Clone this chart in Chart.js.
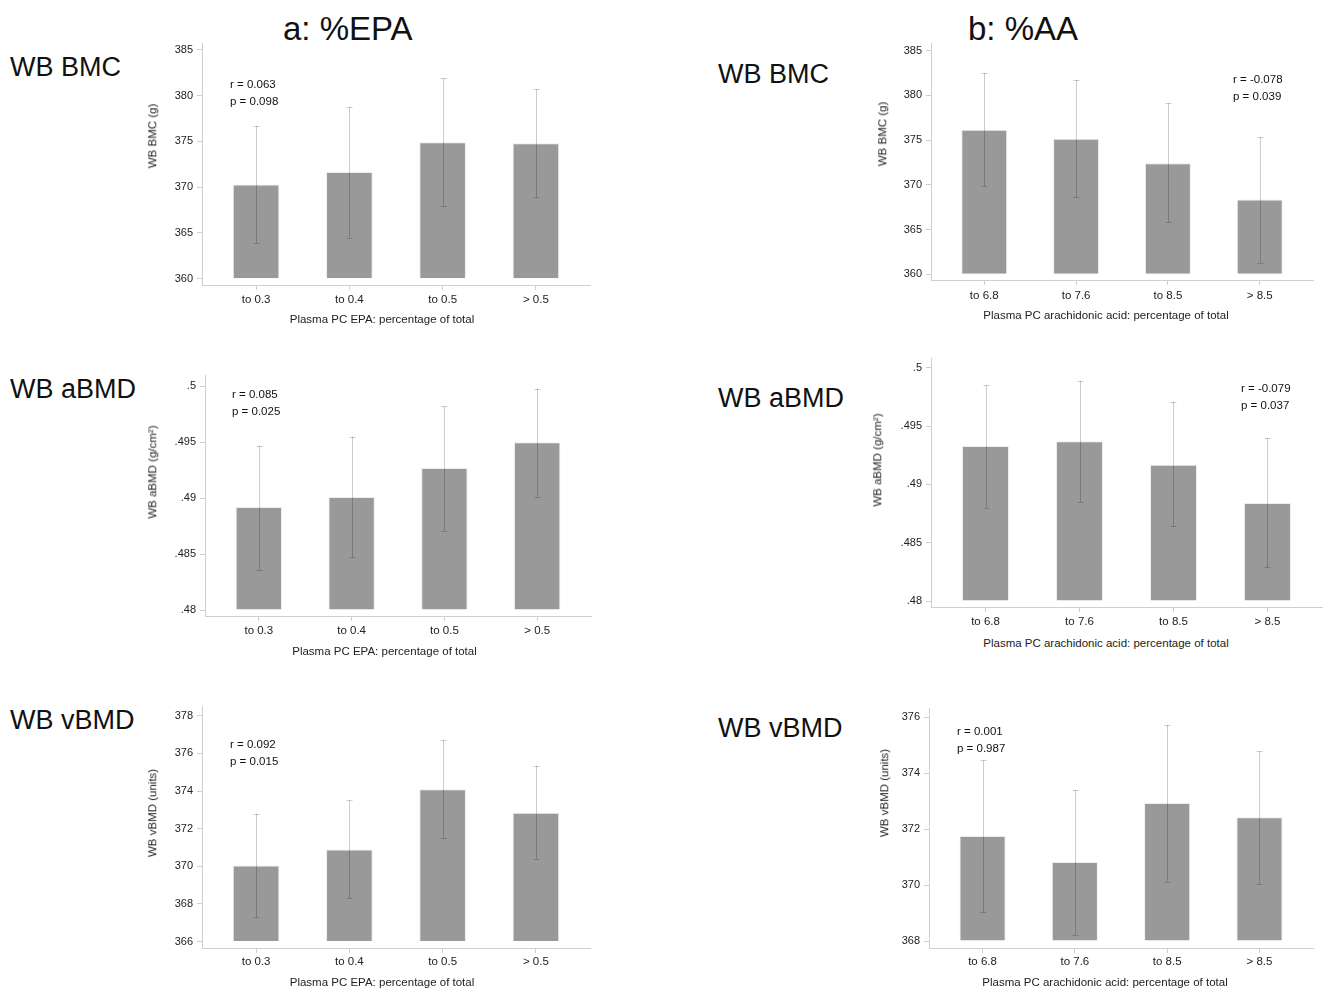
<!DOCTYPE html>
<html>
<head>
<meta charset="utf-8">
<script src="https://cdn.jsdelivr.net/npm/chart.js@4.4.1/dist/chart.umd.min.js"></script>
<style>
  html, body { margin:0; padding:0; background:#fff; }
  body { width:1328px; height:992px; position:relative; overflow:hidden; font-family:"Liberation Sans", Arial, sans-serif; color:#111; }
  canvas { position:absolute; }
  .t { position:absolute; white-space:nowrap; line-height:1; }
  .big { font-size:33px; transform:translateY(-50%); }
  .row { font-size:27px; transform:translateY(-50%); }
  .xt { font-size:11.5px; color:#222; transform:translate(-50%,-50%); }
  .yt { font-size:11.5px; color:#222; transform:translate(-50%,-50%) rotate(-90deg); }
  .st { font-size:11.5px; color:#111; transform:translateY(-50%); }
</style>
</head>
<body>
<script>
// ---------- data ----------
const epaCats = ['to 0.3', 'to 0.4', 'to 0.5', '> 0.5'];
const aaCats  = ['to 6.8', 'to 7.6', 'to 8.5', '> 8.5'];

const epaBmcMean = [370.3, 371.65, 374.9, 374.8];
const epaBmcLow  = [363.9, 364.5, 367.9, 368.9];
const epaBmcHigh = [376.7, 378.8, 381.9, 380.7];

const aaBmcMean = [376.15, 375.15, 372.4, 368.35];
const aaBmcLow  = [369.85, 368.6, 365.8, 361.3];
const aaBmcHigh = [382.5, 381.7, 379.1, 375.3];

const epaAbmdMean = [0.4892, 0.4901, 0.4927, 0.4950];
const epaAbmdLow  = [0.4836, 0.4847, 0.4871, 0.4901];
const epaAbmdHigh = [0.4947, 0.4955, 0.4982, 0.4998];

const aaAbmdMean = [0.4933, 0.4937, 0.4917, 0.4884];
const aaAbmdLow  = [0.4880, 0.4885, 0.4864, 0.4829];
const aaAbmdHigh = [0.4985, 0.4989, 0.4971, 0.4940];

const epaVbmdMean = [370.05, 370.9, 374.1, 372.85];
const epaVbmdLow  = [367.3, 368.3, 371.5, 370.4];
const epaVbmdHigh = [372.8, 373.5, 376.7, 375.35];

const aaVbmdMean = [371.75, 370.82, 372.93, 372.42];
const aaVbmdLow  = [369.05, 368.22, 370.12, 370.05];
const aaVbmdHigh = [374.45, 373.4, 375.72, 374.77];

const bmcTicks = [360, 365, 370, 375, 380, 385];
const bmcTickLabels = ['360', '365', '370', '375', '380', '385'];
const abmdTicks = [0.48, 0.485, 0.49, 0.495, 0.5];
const abmdTickLabels = ['.48', '.485', '.49', '.495', '.5'];
const epaVbmdTicks = [366, 368, 370, 372, 374, 376, 378];
const epaVbmdTickLabels = ['366', '368', '370', '372', '374', '376', '378'];
const aaVbmdTicks = [368, 370, 372, 374, 376];
const aaVbmdTickLabels = ['368', '370', '372', '374', '376'];

const statR = ['r = 0.063', 'r = -0.078', 'r = 0.085', 'r = -0.079', 'r = 0.092', 'r = 0.001'];
const statP = ['p = 0.098', 'p = 0.039', 'p = 0.025', 'p = 0.037', 'p = 0.015', 'p = 0.987'];

// ---------- layout ----------
const panels = [
  { cats: epaCats, mean: epaBmcMean, low: epaBmcLow, high: epaBmcHigh, ticks: bmcTicks, tickLabels: bmcTickLabels,
    base: 360, min: 359.31, max: 385.69, L: 202, T: 43, R: 590, B: 285, xpad: 3,
    ytitle: 'WB BMC (g)', yx: 153, yy: 136, xtitle: 'Plasma PC EPA: percentage of total', xx: 382, xy: 320,
    sx: 230, sy: 85 },
  { cats: aaCats, mean: aaBmcMean, low: aaBmcLow, high: aaBmcHigh, ticks: bmcTicks, tickLabels: bmcTickLabels,
    base: 360, min: 359.37, max: 385.78, L: 931, T: 43, R: 1313, B: 280, xpad: 4,
    ytitle: 'WB BMC (g)', yx: 883, yy: 134, xtitle: 'Plasma PC arachidonic acid: percentage of total', xx: 1106, xy: 316,
    sx: 1233, sy: 79.5 },
  { cats: epaCats, mean: epaAbmdMean, low: epaAbmdLow, high: epaAbmdHigh, ticks: abmdTicks, tickLabels: abmdTickLabels,
    base: 0.48, min: 0.479465, max: 0.500954, L: 205, T: 375, R: 591, B: 616, xpad: 3,
    ytitle: 'WB aBMD (g/cm²)', yx: 153, yy: 472, xtitle: 'Plasma PC EPA: percentage of total', xx: 384.5, xy: 651.5,
    sx: 232, sy: 395 },
  { cats: aaCats, mean: aaAbmdMean, low: aaAbmdLow, high: aaAbmdHigh, ticks: abmdTicks, tickLabels: abmdTickLabels,
    base: 0.48, min: 0.479486, max: 0.500797, L: 931, T: 358, R: 1322, B: 607, xpad: 3,
    ytitle: 'WB aBMD (g/cm²)', yx: 878, yy: 460, xtitle: 'Plasma PC arachidonic acid: percentage of total', xx: 1106, xy: 644,
    sx: 1241, sy: 388.5 },
  { cats: epaCats, mean: epaVbmdMean, low: epaVbmdLow, high: epaVbmdHigh, ticks: epaVbmdTicks, tickLabels: epaVbmdTickLabels,
    base: 366, min: 365.66, max: 378.49, L: 202, T: 706, R: 590, B: 948, xpad: 2,
    ytitle: 'WB vBMD (units)', yx: 153, yy: 813, xtitle: 'Plasma PC EPA: percentage of total', xx: 382, xy: 983,
    sx: 230, sy: 745 },
  { cats: aaCats, mean: aaVbmdMean, low: aaVbmdLow, high: aaVbmdHigh, ticks: aaVbmdTicks, tickLabels: aaVbmdTickLabels,
    base: 368, min: 367.75, max: 376.3, L: 929, T: 708, R: 1313, B: 948, xpad: 2,
    ytitle: 'WB vBMD (units)', yx: 885, yy: 793, xtitle: 'Plasma PC arachidonic acid: percentage of total', xx: 1105, xy: 983,
    sx: 957, sy: 731.5 }
];

const bigLabels = [
  { text: 'a: %EPA', cls: 'big', x: 283, y: 28 },
  { text: 'b: %AA', cls: 'big', x: 968, y: 28 },
  { text: 'WB BMC', cls: 'row', x: 10, y: 67 },
  { text: 'WB BMC', cls: 'row', x: 718, y: 74 },
  { text: 'WB aBMD', cls: 'row', x: 10, y: 389 },
  { text: 'WB aBMD', cls: 'row', x: 718, y: 397.5 },
  { text: 'WB vBMD', cls: 'row', x: 10, y: 720 },
  { text: 'WB vBMD', cls: 'row', x: 718, y: 728 }
];

function addText(text, cls, x, y) {
  const d = document.createElement('div');
  d.className = 't ' + cls;
  d.textContent = text;
  d.style.left = x + 'px';
  d.style.top = y + 'px';
  document.body.appendChild(d);
}

bigLabels.forEach(b => addText(b.text, b.cls, b.x, b.y));

Chart.defaults.font.family = '"Liberation Sans", Arial, sans-serif';
Chart.defaults.color = '#222';

const errorBars = {
  id: 'errorBars',
  afterDatasetsDraw(chart, args, opts) {
    const xs = chart.scales.x, ys = chart.scales.y, ctx = chart.ctx;
    ctx.save();
    ctx.strokeStyle = 'rgba(0,0,0,0.2)';
    ctx.lineWidth = 1;
    opts.low.forEach((lo, i) => {
      const x = Math.round(xs.getPixelForValue(i + 1)) + 0.5;
      const y1 = ys.getPixelForValue(lo);
      const y2 = ys.getPixelForValue(opts.high[i]);
      ctx.beginPath();
      ctx.moveTo(x, y1); ctx.lineTo(x, y2);
      ctx.moveTo(x - 3, Math.round(y1) + 0.5); ctx.lineTo(x + 3, Math.round(y1) + 0.5);
      ctx.moveTo(x - 3, Math.round(y2) + 0.5); ctx.lineTo(x + 3, Math.round(y2) + 0.5);
      ctx.stroke();
    });
    ctx.restore();
  }
};

panels.forEach((p, k) => {
  const cL = p.L - 60, cT = p.T - 10, cR = Math.min(p.R + 5, 1328), cB = p.B + 30;
  const cv = document.createElement('canvas');
  cv.width = cR - cL; cv.height = cB - cT;
  cv.style.left = cL + 'px'; cv.style.top = cT + 'px';
  cv.style.width = (cR - cL) + 'px'; cv.style.height = (cB - cT) + 'px';
  document.body.appendChild(cv);

  new Chart(cv, {
    type: 'bar',
    data: {
      datasets: [{
        data: p.mean.map((v, i) => ({ x: i + 1, y: v })),
        base: p.base,
        backgroundColor: '#999999',
        borderColor: 'rgba(235,235,235,0.9)',
        borderWidth: 1,
        barPercentage: 0.5,
        categoryPercentage: 1.0
      }]
    },
    options: {
      responsive: false,
      animation: false,
      devicePixelRatio: 1,
      layout: { padding: { top: p.T - cT, right: cR - p.R, left: 0, bottom: 0 } },
      plugins: { legend: { display: false }, tooltip: { enabled: false },
        errorBars: { low: p.low, high: p.high } },
      scales: {
        x: {
          type: 'linear', min: 0.42, max: 4.58, offset: false,
          afterBuildTicks: s => { s.ticks = p.cats.map((c, i) => ({ value: i + 1 })); },
          afterFit: s => { s.height = cB - p.B; },
          ticks: { callback: (v) => p.cats[Math.round(v) - 1], autoSkip: false, maxRotation: 0,
                   padding: p.xpad, font: { size: 11.5 }, color: '#222' },
          grid: { offset: false, drawOnChartArea: false, drawTicks: true, tickLength: 5, color: '#cfcfcf' },
          border: { color: '#cfcfcf', width: 1 }
        },
        y: {
          type: 'linear', min: p.min, max: p.max,
          afterBuildTicks: s => { s.ticks = p.ticks.map(v => ({ value: v })); },
          afterFit: s => { s.width = p.L - cL; },
          ticks: { callback: (v, i) => p.tickLabels[i], autoSkip: false, padding: 4, font: { size: 11 }, color: '#222' },
          grid: { drawOnChartArea: false, drawTicks: true, tickLength: 5, color: '#cfcfcf' },
          border: { color: '#cfcfcf', width: 1 }
        }
      }
    },
    plugins: [errorBars]
  });

  addText(p.ytitle, 'yt', p.yx, p.yy);
  addText(p.xtitle, 'xt', p.xx, p.xy);
  addText(statR[k], 'st', p.sx, p.sy);
  addText(statP[k], 'st', p.sx, p.sy + 17);
});
</script>
</body>
</html>
